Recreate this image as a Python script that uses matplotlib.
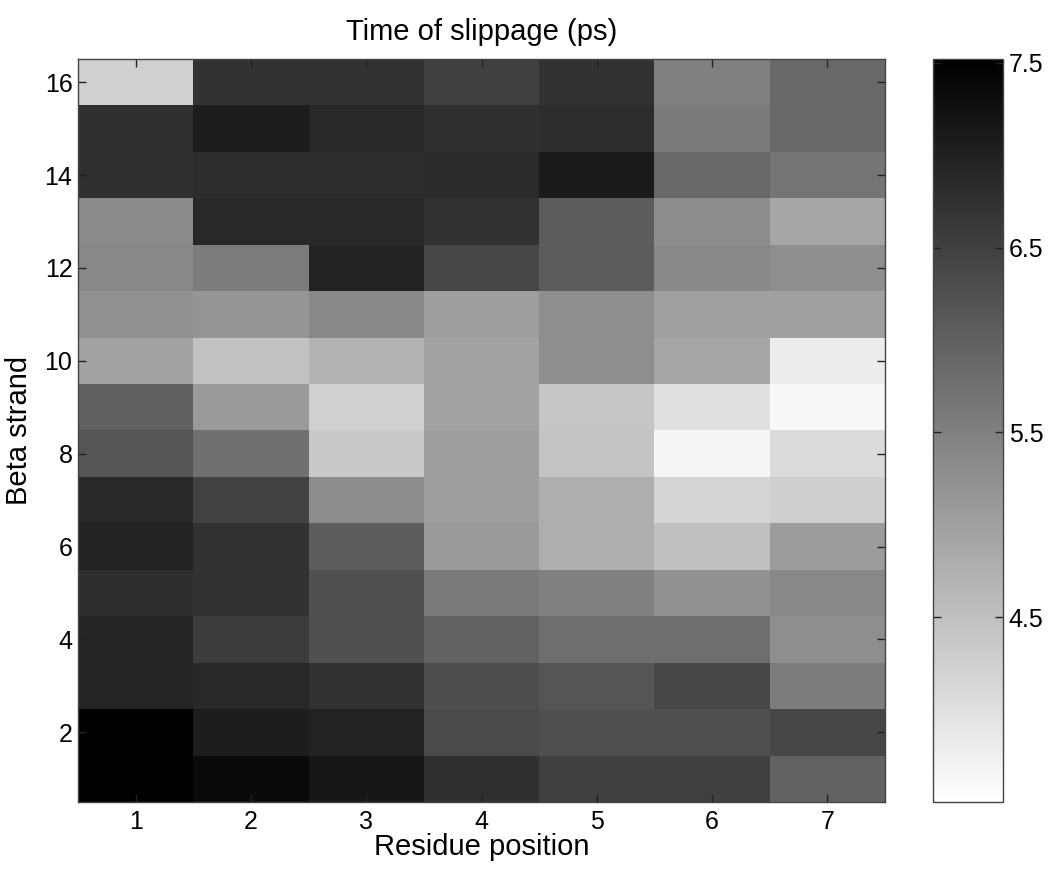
import matplotlib
matplotlib.use("Agg")
import matplotlib.pyplot as plt
import numpy as np

plt.rcParams['font.family'] = ['Liberation Sans', 'DejaVu Sans']

residues = [1, 2, 3, 4, 5, 6, 7]
strands = list(range(1, 17))
# Time of slippage (ps); rows = beta strand 1..16 (bottom to top), cols = residue 1..7
slip_times = [
    [7.52, 7.36, 7.17, 6.76, 6.51, 6.51, 5.98],
    [7.52, 7.05, 6.98, 6.35, 6.27, 6.27, 6.39],
    [6.95, 6.89, 6.72, 6.29, 6.18, 6.39, 5.57],
    [6.95, 6.57, 6.26, 5.98, 5.79, 5.79, 5.28],
    [6.79, 6.72, 6.26, 5.60, 5.50, 5.22, 5.38],
    [6.98, 6.72, 6.07, 5.09, 4.78, 4.49, 5.06],
    [6.89, 6.48, 5.31, 5.03, 4.78, 4.18, 4.27],
    [6.18, 5.75, 4.37, 5.03, 4.45, 3.67, 4.08],
    [6.01, 5.09, 4.24, 4.97, 4.40, 3.99, 3.61],
    [4.97, 4.46, 4.70, 4.97, 5.28, 4.90, 3.80],
    [5.25, 5.17, 5.38, 5.03, 5.28, 5.00, 5.00],
    [5.38, 5.57, 6.98, 6.39, 6.07, 5.38, 5.28],
    [5.35, 6.89, 6.89, 6.72, 6.07, 5.31, 4.90],
    [6.76, 6.81, 6.81, 6.84, 7.09, 5.88, 5.68],
    [6.76, 7.05, 6.89, 6.76, 6.81, 5.60, 5.88],
    [4.24, 6.72, 6.72, 6.51, 6.72, 5.50, 5.88],
]
x_ticks = [1, 2, 3, 4, 5, 6, 7]
y_ticks = [2, 4, 6, 8, 10, 12, 14, 16]
cbar_ticks = [4.5, 5.5, 6.5, 7.5]
vmin, vmax = 3.5, 7.52

fig = plt.figure(figsize=(10.49, 8.71), dpi=100)
ax = fig.add_axes([78/1049, 1 - 802/871, (885 - 78)/1049, (802 - 59)/871])
cax = fig.add_axes([933/1049, 1 - 802/871, (1003 - 933)/1049, (802 - 59)/871])

data = np.array(slip_times)
xe = np.arange(len(residues) + 1) + 0.5
ye = np.arange(len(strands) + 1) + 0.5
mesh = ax.pcolormesh(xe, ye, data, cmap='gray_r', vmin=vmin, vmax=vmax,
                     shading='flat', antialiased=False, linewidth=0)
ax.set_xlim(0.5, 7.5)
ax.set_ylim(0.5, 16.5)
ax.set_xticks(x_ticks)
ax.set_yticks(y_ticks)
ax.tick_params(direction='in', length=6, width=1, top=True, right=True,
               labelsize=18, color='#222222')
ax.tick_params(axis='y', pad=4)
ax.tick_params(axis='x', pad=6)
for s in ax.spines.values():
    s.set_color('#444444')
    s.set_linewidth(1)

ax.set_title('Time of slippage (ps)', fontsize=21, pad=14)
ax.set_xlabel('Residue position', fontsize=21, labelpad=-1)
ax.set_ylabel('Beta strand', fontsize=21, labelpad=8)

cb = fig.colorbar(mesh, cax=cax, ticks=cbar_ticks)
cb.ax.tick_params(direction='in', length=6, width=1, left=True, right=True,
                  labelsize=18, color='#222222', pad=4)
cb.ax.set_yticklabels([str(t) for t in cbar_ticks])
cb.outline.set_edgecolor('#444444')
cb.outline.set_linewidth(1)

fig.savefig('out.png', dpi=100)
